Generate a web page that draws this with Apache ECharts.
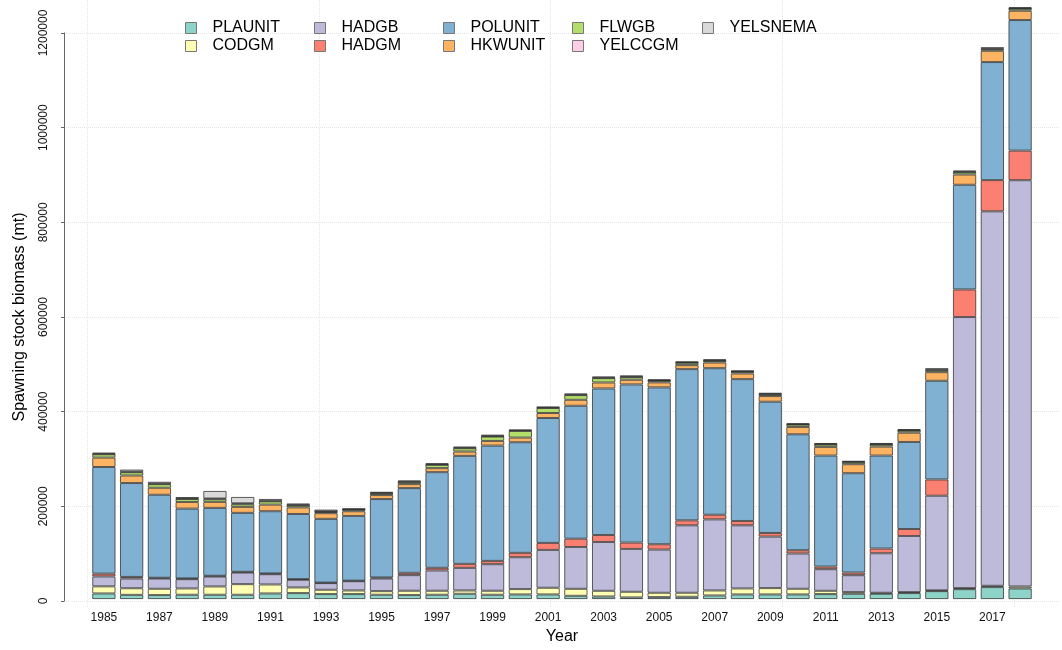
<!DOCTYPE html>
<html>
<head>
<meta charset="utf-8">
<script src="https://cdn.jsdelivr.net/npm/echarts@6/dist/echarts.min.js"></script>
<style>html,body{margin:0;padding:0;background:#fff}#c{width:1062px;height:650px}</style>
</head>
<body>
<div id="c"></div>
<script>
const years = ['1985','1986','1987','1988','1989','1990','1991','1992','1993','1994','1995','1996','1997','1998','1999','2000','2001','2002','2003','2004','2005','2006','2007','2008','2009','2010','2011','2012','2013','2014','2015','2016','2017','2018'];
const seriesNames = ['PLAUNIT','CODGM','HADGB','HADGM','POLUNIT','HKWUNIT','FLWGB','YELCCGM','YELSNEMA'];
const colors = ['#8DD3C7','#FFFFB3','#BEBADA','#FB8072','#80B1D3','#FDB462','#B3DE69','#FCCDE5','#D9D9D9'];
const yTicks = [0,200000,400000,600000,800000,1000000,1200000];

const PLAUNIT = [12000,9000,8500,9200,9200,9200,12000,12700,10600,10600,9200,8500,9200,11300,9200,9900,9900,7000,5600,3500,4200,4900,7700,9900,9900,9900,10600,11300,11300,12700,16900,21100,25400,22500];
const CODGM = [15000,14000,13400,13400,17600,22500,19000,12000,9200,7700,7700,9200,8500,7000,8500,11300,14100,14800,12000,12000,9200,8500,10600,12700,13400,12000,7000,3500,2100,2100,1500,2100,2800,4200];
const HADGB = [21000,20500,21800,19700,21100,24600,21800,16200,14100,19700,26800,33100,43000,47900,56300,67600,80300,88700,103500,90900,91600,143000,150700,133800,109200,74700,45800,35900,83800,119000,200700,574700,793800,861300];
const HADGM = [6000,3500,1500,1500,1500,1500,1500,1500,1000,1000,2100,4900,5600,8500,7000,9200,14800,17600,14800,13400,11300,10600,9900,9200,7700,7000,5600,5600,9900,14800,34500,58500,66200,62700];
const POLUNIT = [226000,199000,176000,148000,144000,125000,132000,138000,135200,137300,166200,179600,202800,228900,244400,234500,264800,281700,310600,335300,332500,320500,310600,300700,278200,245800,235300,210600,197200,184500,209200,221900,250200,276800];
const HKWUNIT = [20000,16000,14800,14100,12700,12700,14000,14000,12000,9900,8500,8500,8500,9200,9900,9900,10600,12700,12700,9900,10600,8500,12000,12000,12000,15500,18300,19000,19000,19700,18300,21800,23900,19700];
const FLWGB = [7000,7000,7700,6300,5600,5600,7000,4200,2800,3500,3500,4200,7000,7000,9200,14100,10600,9900,9200,5600,3500,4900,3500,3500,3500,4900,4900,4200,4200,4200,4200,4900,3500,4200];
const YELCCGM = [1000,1000,1000,1000,1500,2000,1000,1000,1000,1000,1000,1000,1000,1000,1000,1000,1000,1000,1000,1000,1000,1000,1000,1000,1000,1000,1000,1000,1000,1000,1000,1000,1000,1000];
const YELSNEMA = [2500,4600,4000,3200,16100,13500,4000,3200,3900,1100,2500,2500,2500,2500,3200,1800,1800,2500,2500,2500,1800,1800,2500,1800,2500,1800,2500,1800,2500,2500,3200,2500,3200,2500];

const dataMap = {PLAUNIT,CODGM,HADGB,HADGM,POLUNIT,HKWUNIT,FLWGB,YELCCGM,YELSNEMA};
const FONT = 'Liberation Sans, Arial, Helvetica, sans-serif';

const chart = echarts.init(document.getElementById('c'), null, {renderer:'canvas'});

const series = seriesNames.map((n,i)=>({
  name:n, type:'bar', stack:'total', xAxisIndex:2, yAxisIndex:2,
  data: dataMap[n], barWidth:'84%',
  itemStyle:{color:colors[i], borderColor:'rgba(45,45,45,0.75)', borderWidth:1},
  emphasis:{disabled:true}
}));

const legendCols = [['PLAUNIT','CODGM'],['HADGB','HADGM'],['POLUNIT','HKWUNIT'],['FLWGB','YELCCGM'],['YELSNEMA']];
const legendLeft = [185,314,443,572,702];
const legends = legendCols.map((d,i)=>({
  data:d, orient:'vertical', left:legendLeft[i], top:19, padding:0, itemGap:0,
  itemWidth:11, itemHeight:11, icon:'rect', selectedMode:false,
  itemStyle:{borderColor:'#777', borderWidth:1},
  textStyle:{fontFamily:FONT, fontSize:16, color:'#000', lineHeight:18, padding:[0,0,0,11]}
}));

chart.setOption({
  animation:false,
  backgroundColor:'#fff',
  legend: legends,
  grid:[
    {left:64, right:2, top:33, bottom:49},
    {left:87, width:927, top:0, bottom:43},
    {left:90, right:28, top:0, bottom:49}
  ],
  xAxis:[
    {gridIndex:0, type:'value', show:false},
    {gridIndex:1, type:'value', min:0, max:4, interval:1, axisLine:{show:false}, axisTick:{show:false}, axisLabel:{show:false},
     splitLine:{show:true, lineStyle:{color:'#e6e6e6', type:'dotted', width:1}}},
    {gridIndex:2, type:'category', data:years, axisLine:{show:false}, axisTick:{show:false},
     axisLabel:{interval:1, fontFamily:FONT, fontSize:12, color:'#111', margin:13},
     name:'Year', nameLocation:'middle', nameGap:28, nameTextStyle:{fontFamily:FONT, fontSize:16, color:'#000'}}
  ],
  yAxis:[
    {gridIndex:0, type:'value', min:0, max:1200000, interval:200000,
     axisLine:{show:true, lineStyle:{color:'#666', width:1}},
     axisTick:{show:true, length:3, lineStyle:{color:'#666'}},
     axisLabel:{rotate:90, fontFamily:FONT, fontSize:12, color:'#111', margin:14,
       formatter:v=>String(v)},
     splitLine:{show:true, lineStyle:{color:'#e6e6e6', type:'dotted', width:1}},
     name:'Spawning stock biomass (mt)', nameLocation:'middle', nameGap:36, nameRotate:90,
     nameTextStyle:{fontFamily:FONT, fontSize:16, color:'#000'}},
    {gridIndex:1, type:'value', show:false},
    {gridIndex:2, type:'value', min:0, max:1270000, show:false}
  ],
  series: series
});
</script>
</body>
</html>
